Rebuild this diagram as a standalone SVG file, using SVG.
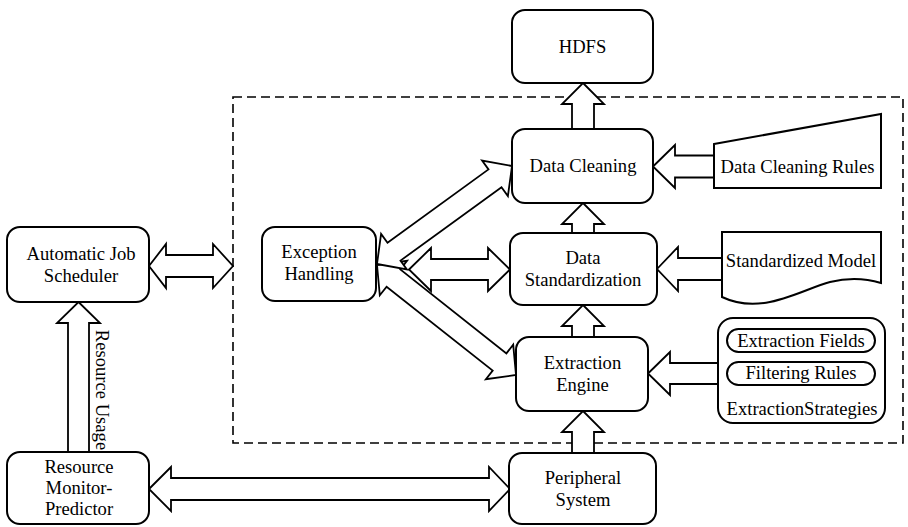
<svg xmlns="http://www.w3.org/2000/svg" width="908" height="527" viewBox="0 0 908 527">
  <style>
    .box { fill: #ffffff; stroke: #000000; stroke-width: 2; }
    .arrow { fill: #ffffff; stroke: #000000; stroke-width: 1.8; stroke-linejoin: miter; }
    .frame { fill: none; stroke: #000000; stroke-width: 1.6; stroke-dasharray: 9 5; }
    text { font-family: "Liberation Serif", "Times New Roman", serif; font-size: 18.6px; fill: #000000; text-anchor: middle; }
  </style>
  <rect width="908" height="527" fill="#ffffff"/>

  <!-- processing boundary -->
  <rect id="processing-frame" class="frame" x="233" y="97" width="670" height="346"/>

  <!-- block arrows -->
  <g id="connectors">
    <!-- Data Cleaning -> HDFS -->
    <polygon class="arrow" points="583,83 604,104 594,104 594,129 572,129 572,104 562,104"/>
    <!-- Data Standardization -> Data Cleaning -->
    <polygon class="arrow" points="583,203 604,224 594,224 594,233 572,233 572,224 562,224"/>
    <!-- Extraction Engine -> Data Standardization -->
    <polygon class="arrow" points="583,305 604,326 594,326 594,337 572,337 572,326 562,326"/>
    <!-- Peripheral System -> Extraction Engine -->
    <polygon class="arrow" points="583,411 604,432 594,432 594,453 572,453 572,432 562,432"/>

    <!-- Data Cleaning Rules -> Data Cleaning -->
    <polygon class="arrow" points="653,166.5 675,145 675,155.5 714,155.5 714,177.5 675,177.5 675,188"/>
    <!-- Standardized Model -> Data Standardization -->
    <polygon class="arrow" points="657,269 678,247 678,258 722,258 722,280 678,280 678,291"/>
    <!-- Extraction Strategies -> Extraction Engine -->
    <polygon class="arrow" points="648,373.5 670,352 670,363 718,363 718,384 670,384 670,395"/>

    <!-- Exception Handling <-> Extraction Engine -->
    <polygon class="arrow" points="377,265 379.8,295.3 386.6,286.7 492.7,370.6 485.9,379.2 516,375 513.2,344.7 506.4,353.4 400.3,269.4 407.1,260.8"/>
    <!-- Exception Handling <-> Data Cleaning -->
    <polygon class="arrow" points="377,264 406.9,269.5 400.5,260.6 501.5,187.2 507.9,196.1 512,166 482.1,160.5 488.5,169.4 387.5,242.8 381.1,233.9"/>
    <!-- Exception Handling <-> Data Standardization -->
    <polygon class="arrow" points="409,269.5 431,248 431,259 488,259 488,248 510,269.5 488,291 488,280 431,280 431,291"/>

    <!-- Automatic Job Scheduler <-> processing frame -->
    <polygon class="arrow" points="149,266 166,244 166,255 213,255 213,244 233,266 213,288 213,277 166,277 166,288"/>
    <!-- Resource Monitor-Predictor -> Automatic Job Scheduler -->
    <polygon class="arrow" points="78.5,302 100,323 89,323 89,452 68,452 68,323 57,323"/>
    <!-- Resource Monitor-Predictor <-> Peripheral System -->
    <polygon class="arrow" points="149,489 171,467 171,478 489,478 489,467 510,489 489,511 489,500 171,500 171,511"/>
    <text transform="translate(96,390) rotate(90)">Resource Usage</text>
  </g>

  <g id="hdfs">
    <rect class="box" x="512" y="10" width="141" height="73" rx="13"/>
    <text x="582.5" y="53">HDFS</text>
  </g>

  <g id="data-cleaning">
    <rect class="box" x="512" y="129" width="141" height="74" rx="13"/>
    <text x="583" y="172">Data Cleaning</text>
  </g>

  <g id="data-standardization">
    <rect class="box" x="510" y="233" width="147" height="72" rx="13"/>
    <text x="583" y="264">Data</text>
    <text x="583" y="286">Standardization</text>
  </g>

  <g id="extraction-engine">
    <rect class="box" x="516" y="337" width="132" height="74" rx="13"/>
    <text x="582.5" y="369">Extraction</text>
    <text x="582.5" y="391">Engine</text>
  </g>

  <g id="peripheral-system">
    <rect class="box" x="509" y="453" width="147" height="71" rx="13"/>
    <text x="583" y="484">Peripheral</text>
    <text x="583" y="506">System</text>
  </g>

  <g id="exception-handling">
    <rect class="box" x="262" y="227" width="114" height="74" rx="13"/>
    <text x="319" y="258">Exception</text>
    <text x="319" y="280">Handling</text>
  </g>

  <g id="automatic-job-scheduler">
    <rect class="box" x="7" y="227" width="142" height="75" rx="13"/>
    <text x="81" y="260">Automatic Job</text>
    <text x="81" y="282">Scheduler</text>
  </g>

  <g id="resource-monitor-predictor">
    <rect class="box" x="7" y="452" width="142" height="72" rx="13"/>
    <text x="79" y="473">Resource</text>
    <text x="79" y="494">Monitor-</text>
    <text x="79" y="515">Predictor</text>
  </g>

  <g id="data-cleaning-rules">
    <polygon class="box" points="714,144 881,114 881,188 714,188"/>
    <text x="797.5" y="173">Data Cleaning Rules</text>
  </g>

  <g id="standardized-model">
    <path class="box" d="M722,232 H881 V283 C868,279 850,277 830,282 C800,290 762,316 722,297 Z"/>
    <text x="801" y="267">Standardized Model</text>
  </g>

  <g id="extraction-strategies">
    <rect class="box" x="718" y="318" width="167" height="105" rx="15"/>
    <rect class="box" x="727" y="329" width="148" height="23" rx="11.5"/>
    <text x="801" y="347">Extraction Fields</text>
    <rect class="box" x="727" y="362" width="148" height="23" rx="11.5"/>
    <text x="801" y="379">Filtering Rules</text>
    <text x="802" y="415">ExtractionStrategies</text>
  </g>
</svg>
